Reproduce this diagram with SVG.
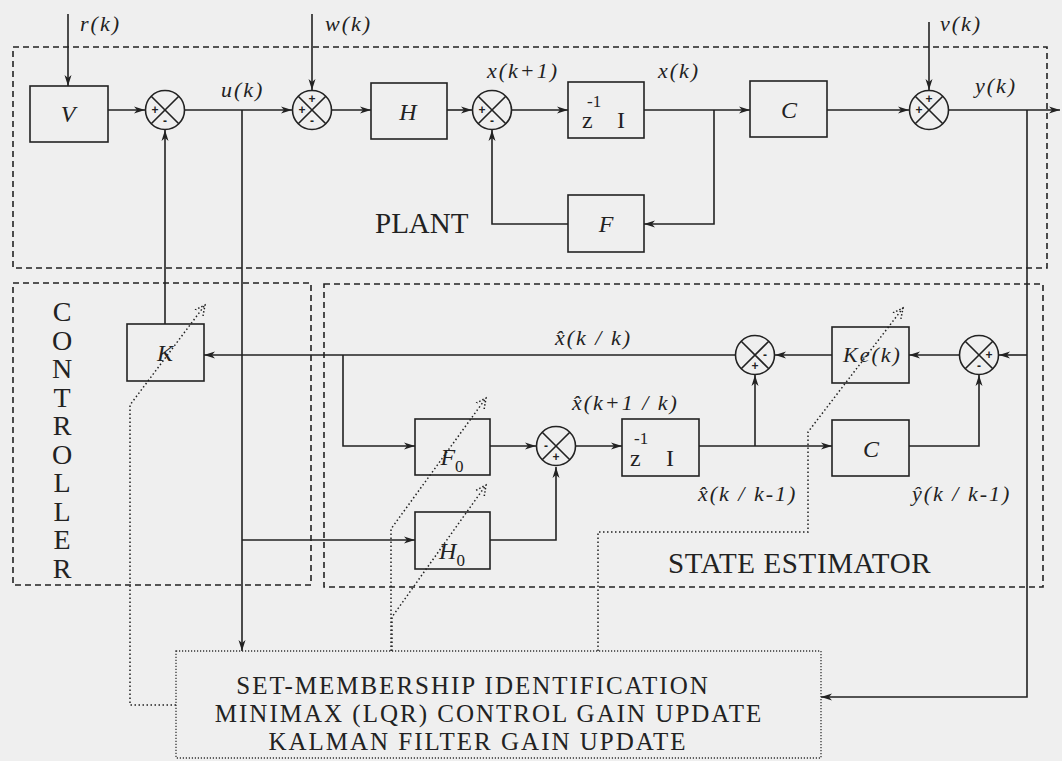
<svg xmlns="http://www.w3.org/2000/svg" width="1062" height="761" viewBox="0 0 1062 761">
<style>
.bx{fill:none;stroke:#222;stroke-width:1.6}
.c{fill:none;stroke:#222;stroke-width:1.6;marker-end:url(#ah)}
.ds{fill:none;stroke:#222;stroke-width:1.6;stroke-dasharray:6 4}
.dt{fill:none;stroke:#222;stroke-width:1.5;stroke-dasharray:1.5 2.5}
.dtb{fill:none;stroke:#333;stroke-width:1.3;stroke-dasharray:1.2 1.8}
.l{font-family:"Liberation Serif",serif;font-style:italic;font-size:22px;letter-spacing:2px;fill:#222}
.bl{font-family:"Liberation Serif",serif;font-style:italic;font-size:24px;fill:#222;text-anchor:middle}
.r{font-family:"Liberation Serif",serif;font-size:24px;fill:#222}
.big{font-family:"Liberation Serif",serif;font-size:29px;fill:#222}
.vt{font-family:"Liberation Serif",serif;font-size:28px;letter-spacing:-2.5px;fill:#222;writing-mode:vertical-rl;text-orientation:upright}
.sm{font-family:"Liberation Serif",serif;font-size:25px;letter-spacing:2px;fill:#222;text-anchor:middle}
.sg{font-family:"Liberation Sans",sans-serif;font-size:12px;font-weight:bold;fill:#222;text-anchor:middle}
</style>
<defs>
<marker id="ah" markerWidth="12" markerHeight="8" refX="11" refY="4" orient="auto" markerUnits="userSpaceOnUse"><path d="M0,0.5 L11,4 L0,7.5 L3,4 z" fill="#222"/></marker>
<marker id="oh" markerWidth="14" markerHeight="14" refX="10" refY="6" orient="auto" markerUnits="userSpaceOnUse"><path d="M0,1 L10,6 L0,11" fill="none" stroke="#222" stroke-width="1.5" stroke-dasharray="1.5 2"/></marker>
</defs>
<rect width="1062" height="761" fill="#efefef"/>

<g id="regions">
<rect class="ds" x="13" y="47" width="1034" height="221"/>
<rect class="ds" x="13" y="283" width="298" height="302"/>
<rect class="ds" x="324" y="284" width="719" height="303"/>
<text class="big" x="375" y="233">PLANT</text>
<text class="big" x="668" y="573" letter-spacing="0.6">STATE ESTIMATOR</text>
<text class="vt" x="62" y="296">CONTROLLER</text>
</g>

<g id="connectors">
<path class="c" d="M68,14 V86"/>
<path class="c" d="M312,14 V90"/>
<path class="c" d="M929,22 V90"/>
<path class="c" d="M108,110 H145"/>
<path class="c" d="M185,110 H292"/>
<path class="c" d="M332,110 H371"/>
<path class="c" d="M447,110 H472"/>
<path class="c" d="M512,110 H568"/>
<path class="c" d="M644,110 H750"/>
<path class="c" d="M827,110 H909"/>
<path class="c" d="M949,110 H1060"/>
<path class="c" d="M714,110 V224 H644"/>
<path class="c" d="M568,224 H492 V130"/>
<path class="c" d="M165,324 V130"/>
<path class="c" d="M242,110 V651"/>
<path class="c" d="M242,540 H415"/>
<path class="c" d="M1027,110 V697 H821"/>
<path class="c" d="M1027,355 H999"/>
<path class="c" d="M959,355 H909"/>
<path class="c" d="M832,355 H775"/>
<path class="c" d="M735,355 H204"/>
<path class="c" d="M343,355 V446 H415"/>
<path class="c" d="M490,446 H536"/>
<path class="c" d="M490,540 H556 V467"/>
<path class="c" d="M576,446 H622"/>
<path class="c" d="M699,446 H832"/>
<path class="c" d="M755,446 V375"/>
<path class="c" d="M909,446 H979 V375"/>
<path class="dt" marker-end="url(#oh)" d="M176,705 H130 V405 L205,305"/>
<path class="dt" marker-end="url(#oh)" d="M391,651 V529 L486,398"/>
<path class="dt" marker-end="url(#oh)" d="M392,651 V617 L486,485"/>
<path class="dt" marker-end="url(#oh)" d="M598,651 V532 H808 V432 L903,308"/>
</g>

<g id="signals">
<text class="l" x="80" y="31">r(k)</text>
<text class="l" x="325" y="31">w(k)</text>
<text class="l" x="221" y="97">u(k)</text>
<text class="l" x="487" y="78">x(k+1)</text>
<text class="l" x="658" y="78">x(k)</text>
<text class="l" x="940" y="31">v(k)</text>
<text class="l" x="975" y="93">y(k)</text>
<text class="l" x="555" y="345">x̂(k / k)</text>
<text class="l" x="572" y="410">x̂(k+1 / k)</text>
<text class="l" x="698" y="501">x̂(k / k-1)</text>
<text class="l" x="912" y="501">ŷ(k / k-1)</text>
</g>

<g id="V"><rect class="bx" x="30" y="86" width="78" height="56"/><text class="bl" x="68" y="122">V</text></g>
<g id="H"><rect class="bx" x="371" y="83" width="76" height="56"/><text class="bl" x="408" y="120">H</text></g>
<g id="Z"><rect class="bx" x="568" y="82" width="76" height="56"/><text class="r" x="582" y="128">z<tspan x="587" y="107" font-size="17">-1</tspan><tspan x="617" y="128">I</tspan></text></g>
<g id="F"><rect class="bx" x="568" y="195" width="76" height="57"/><text class="bl" x="606" y="232">F</text></g>
<g id="C"><rect class="bx" x="750" y="81" width="77" height="56"/><text class="bl" x="789" y="118">C</text></g>
<g id="K"><rect class="bx" x="127" y="324" width="77" height="57"/><text class="bl" x="165" y="361">K</text></g>
<g id="Ke"><rect class="bx" x="832" y="327" width="77" height="56"/><text class="l" x="843" y="362" letter-spacing="1">Ke(k)</text></g>
<g id="F0"><rect class="bx" x="415" y="419" width="75" height="56"/><text class="bl" x="452" y="465">F<tspan font-style="normal" font-size="17" dy="7">0</tspan></text></g>
<g id="H0"><rect class="bx" x="415" y="512" width="75" height="57"/><text class="bl" x="452" y="559">H<tspan font-style="normal" font-size="17" dy="7">0</tspan></text></g>
<g id="Z2"><rect class="bx" x="622" y="419" width="77" height="57"/><text class="r" x="630" y="466">z<tspan x="634" y="444" font-size="17">-1</tspan><tspan x="666" y="466">I</tspan></text></g>
<g id="C2"><rect class="bx" x="832" y="420" width="77" height="56"/><text class="bl" x="871" y="457">C</text></g>

<g id="S1"><circle class="bx" cx="165" cy="110" r="19.5"/><path class="bx" d="M151.2,96.2 L178.8,123.8 M178.8,96.2 L151.2,123.8"/><text class="sg" x="155" y="114">+</text><text class="sg" x="165" y="125">-</text></g>
<g id="S2"><circle class="bx" cx="312" cy="110" r="19.5"/><path class="bx" d="M298.2,96.2 L325.8,123.8 M325.8,96.2 L298.2,123.8"/><text class="sg" x="312" y="103">+</text><text class="sg" x="302" y="114">+</text><text class="sg" x="312" y="125">-</text></g>
<g id="S3"><circle class="bx" cx="492" cy="110" r="19.5"/><path class="bx" d="M478.2,96.2 L505.8,123.8 M505.8,96.2 L478.2,123.8"/><text class="sg" x="482" y="114">+</text><text class="sg" x="492" y="125">-</text></g>
<g id="S4"><circle class="bx" cx="929" cy="110" r="19.5"/><path class="bx" d="M915.2,96.2 L942.8,123.8 M942.8,96.2 L915.2,123.8"/><text class="sg" x="929" y="103">+</text><text class="sg" x="919" y="114">+</text></g>
<g id="S5"><circle class="bx" cx="979" cy="355" r="19.5"/><path class="bx" d="M965.2,341.2 L992.8,368.8 M992.8,341.2 L965.2,368.8"/><text class="sg" x="989" y="359">+</text><text class="sg" x="979" y="370">-</text></g>
<g id="S6"><circle class="bx" cx="755" cy="355" r="19.5"/><path class="bx" d="M741.2,341.2 L768.8,368.8 M768.8,341.2 L741.2,368.8"/><text class="sg" x="765" y="359">-</text><text class="sg" x="755" y="370">+</text></g>
<g id="S7"><circle class="bx" cx="556" cy="446" r="19.5"/><path class="bx" d="M542.2,432.2 L569.8,459.8 M569.8,432.2 L542.2,459.8"/><text class="sg" x="546" y="450">-</text><text class="sg" x="556" y="461">+</text></g>

<g id="SMI">
<rect class="dtb" x="176" y="651" width="645" height="107"/>
<text class="sm" x="473" y="694">SET-MEMBERSHIP IDENTIFICATION</text>
<text class="sm" x="489" y="722">MINIMAX (LQR) CONTROL GAIN UPDATE</text>
<text class="sm" x="478" y="750">KALMAN FILTER GAIN UPDATE</text>
</g>
</svg>
